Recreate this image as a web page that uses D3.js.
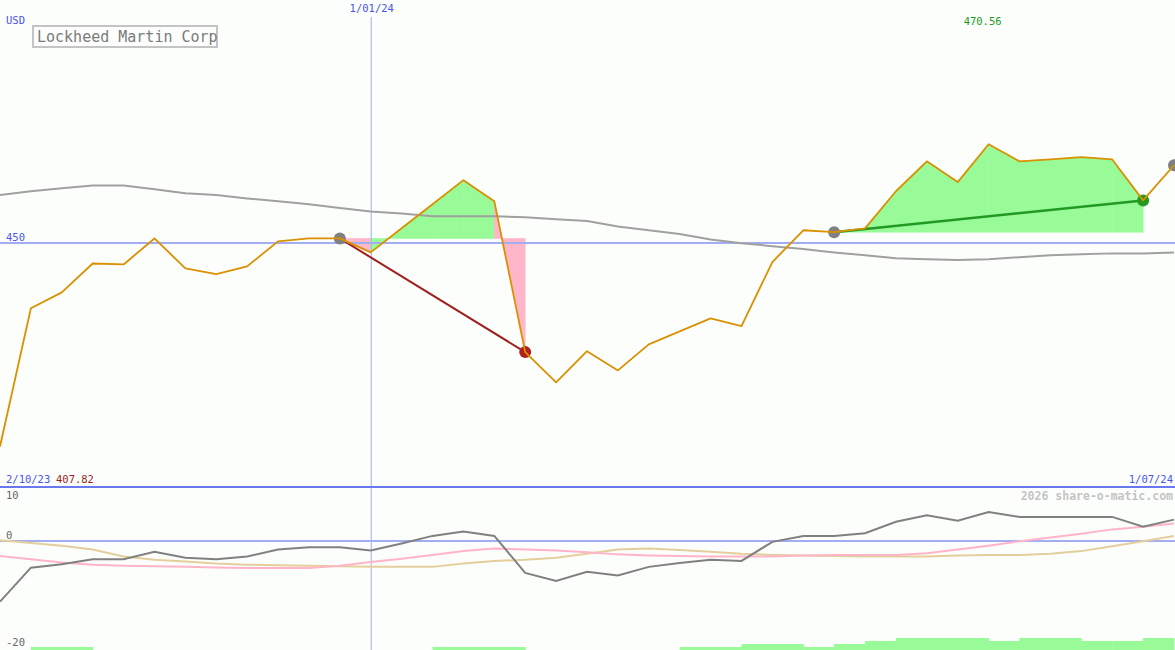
<!DOCTYPE html>
<html>
<head>
<meta charset="utf-8">
<script src="https://cdn.jsdelivr.net/npm/d3@7"></script>
<style>
  body { margin: 0; background: #fcfefc; }
  svg { display: block; font-family: "DejaVu Sans Mono", monospace; }
</style>
</head>
<body>
<script>
// weekly closes, 2/10/23 .. 1/07/24
var price = [407.82, 436.5, 439.8, 445.8, 445.6, 451.0, 444.8, 443.6, 445.2, 450.4,
             451.0, 451.0, 448.1, 453.1, 458.1, 463.1, 458.7, 427.4, 421.1, 427.6,
             423.6, 429.0, 431.7, 434.4, 432.8, 446.1, 452.7, 452.3, 453.1, 460.8,
             467.0, 462.7, 470.56, 467.0, 467.4, 467.9, 467.4, 458.9, 466.2];
var movAvg = [460.0, 460.8, 461.4, 462.0, 462.0, 461.2, 460.4, 460.0, 459.3, 458.7,
              458.1, 457.3, 456.6, 456.2, 455.6, 455.6, 455.6, 455.4, 455.0, 454.6,
              453.5, 452.7, 451.9, 450.8, 450.0, 449.4, 448.8, 448.1, 447.5, 446.9,
              446.7, 446.5, 446.7, 447.1, 447.5, 447.7, 447.9, 447.9, 448.1];
// lower panel
var momentum = [-11.1, -4.85, -4.2, -3.3, -3.3, -1.9, -3.0, -3.3, -2.8, -1.5,
                -1.1, -1.1, -1.7, -0.4, 1.0, 1.8, 1.0, -5.8, -7.3, -5.6,
                -6.3, -4.7, -4.0, -3.4, -3.6, -0.1, 1.0, 1.0, 1.5, 3.6,
                4.8, 3.8, 5.4, 4.5, 4.5, 4.5, 4.5, 2.7, 4.0];
var fastSig = [-2.7, -3.3, -3.9, -4.3, -4.5, -4.6, -4.7, -4.8, -4.9, -4.9,
               -4.9, -4.5, -3.8, -3.2, -2.5, -1.8, -1.3, -1.5, -1.7, -2.0,
               -2.4, -2.6, -2.7, -2.8, -2.8, -2.8, -2.6, -2.5, -2.5, -2.5,
               -2.2, -1.5, -0.8, 0.0, 0.7, 1.4, 2.2, 2.7, 3.3];
var slowSig = [0.2, -0.3, -0.8, -1.5, -2.8, -3.4, -3.7, -4.1, -4.3, -4.4,
               -4.5, -4.6, -4.7, -4.7, -4.7, -4.1, -3.6, -3.4, -3.0, -2.3,
               -1.5, -1.3, -1.6, -1.9, -2.3, -2.5, -2.6, -2.7, -2.8, -2.8,
               -2.8, -2.6, -2.5, -2.5, -2.3, -1.8, -0.9, 0.0, 1.0];
// strength bars, one per week interval
var strength = [0, 1, 1, 0, 0, 0, 0, 0, 0, 0, 0, 0, 0, 0, 1, 1, 1, 0, 0, 0,
                0, 0, 1, 1, 2, 2, 1, 2, 3, 4, 4, 4, 3, 4, 4, 3, 3, 4];
// trades: start week -> end week
var trades = [[11, 17], [27, 37]];
var openTrade = [38];

var title = "Lockheed Martin Corp";
var currency = "USD";
var startLabel = "2/10/23", endLabel = "1/07/24";
var yearMark = {idx: 12, label: "1/01/24"};
var refLevel = 450;
var lowerTicks = [10, 0, -20];
var credit = "2026 share-o-matic.com";

var W = 1175, H = 650;
var blue = "#4a55ee", lightBlue = "#a3adf2";

var x = d3.scaleLinear().domain([0, price.length - 1]).range([0, 1174]);
var y = d3.scaleLinear().domain([399.4, 500.5]).range([487, 0]);
var y2 = d3.scaleLinear().domain([-20, 10]).range([650, 487]);
var barY = d3.scaleLinear().domain([0, 4]).range([650, 638]);

var svg = d3.select("body").append("svg")
    .attr("width", W)
    .attr("height", H);

svg.append("rect").attr("width", W).attr("height", H).attr("fill", "#fcfefc");

// trade fills, per week segment
trades.forEach(function (t) {
  var lvl = price[t[0]];
  for (var i = t[0]; i < t[1]; i++) {
    var up = price[i + 1] >= lvl;
    var pts = [[x(i), y(lvl)], [x(i), y(price[i])], [x(i + 1), y(price[i + 1])], [x(i + 1), y(lvl)]];
    var col = up ? "#98fb98" : "#ffb6c8";
    svg.append("path")
      .attr("d", d3.line()(pts) + "Z")
      .attr("fill", col)
      .attr("stroke", col).attr("stroke-width", 0.6);
  }
});

// reference grid
svg.append("line")
  .attr("x1", x(yearMark.idx) + 0.5).attr("x2", x(yearMark.idx) + 0.5)
  .attr("y1", 17).attr("y2", H)
  .attr("stroke", lightBlue).attr("stroke-width", 1);
svg.append("line")
  .attr("x1", 0).attr("x2", W)
  .attr("y1", Math.round(y(refLevel))).attr("y2", Math.round(y(refLevel)))
  .attr("stroke", lightBlue).attr("stroke-width", 2);

var line = d3.line()
  .x(function (d, i) { return x(i); })
  .y(function (d) { return y(d); });

svg.append("path").datum(movAvg)
  .attr("d", line).attr("fill", "none")
  .attr("stroke", "#a0a0a0").attr("stroke-width", 2);

// trade connectors and markers
trades.forEach(function (t) {
  var win = price[t[1]] >= price[t[0]];
  var col = win ? "#229a22" : "#a01e1e";
  svg.append("line")
    .attr("x1", x(t[0])).attr("y1", y(price[t[0]]))
    .attr("x2", x(t[1])).attr("y2", y(price[t[1]]))
    .attr("stroke", col).attr("stroke-width", win ? 2.5 : 2);
  svg.append("circle").attr("cx", x(t[0])).attr("cy", y(price[t[0]]))
    .attr("r", 6).attr("fill", "#808080");
  svg.append("circle").attr("cx", x(t[1])).attr("cy", y(price[t[1]]))
    .attr("r", 6).attr("fill", win ? "#229a22" : "#b02020");
});
openTrade.forEach(function (i) {
  svg.append("circle").attr("cx", x(i)).attr("cy", y(price[i]))
    .attr("r", 6).attr("fill", "#808080");
});

svg.append("path").datum(price)
  .attr("d", line).attr("fill", "none")
  .attr("stroke", "#da9000").attr("stroke-width", 1.8)
  .attr("stroke-linejoin", "round");

// labels, upper panel
function label(txt, lx, ly, col, anchor, size, weight) {
  return svg.append("text")
    .attr("x", lx).attr("y", ly)
    .attr("fill", col)
    .attr("font-size", size || 10.5)
    .attr("font-weight", weight || "normal")
    .attr("text-anchor", anchor || "start")
    .text(txt);
}
label(currency, 6, 24, blue);
label(yearMark.label, x(yearMark.idx) + 1, 12, blue, "middle");
label(refLevel, 6, 241, blue);

var hi = d3.maxIndex(price), lo = d3.minIndex(price);
label(price[hi].toFixed(2), x(hi) - 6, 25, "#229a22", "middle");
label(startLabel, 6, 483, blue);
label(price[lo].toFixed(2), 56, 483, "#a01e1e");
label(endLabel, 1173, 483, blue, "end");

svg.append("rect")
  .attr("x", 33).attr("y", 26).attr("width", 184).attr("height", 21)
  .attr("fill", "#fcfefc").attr("stroke", "#c4c4c4").attr("stroke-width", 2);
label(title, 37, 42, "#7a7a7a", "start", 15);

// divider
svg.append("line")
  .attr("x1", 0).attr("x2", W).attr("y1", 487).attr("y2", 487)
  .attr("stroke", "#6a78ee").attr("stroke-width", 2);

// lower panel
svg.append("line")
  .attr("x1", 0).attr("x2", W)
  .attr("y1", Math.round(y2(0))).attr("y2", Math.round(y2(0)))
  .attr("stroke", lightBlue).attr("stroke-width", 2);

svg.selectAll("rect.bar")
  .data(strength)
  .enter()
  .append("rect")
  .attr("class", "bar")
  .attr("x", function (d, i) { return x(i); })
  .attr("y", function (d) { return barY(d); })
  .attr("width", function (d, i) { return x(i + 1) - x(i) + 0.5; })
  .attr("height", function (d) { return 650 - barY(d); })
  .attr("fill", "#98fb98");

var line2 = d3.line()
  .x(function (d, i) { return x(i); })
  .y(function (d) { return y2(d); });

[[slowSig, "#e4cf9c"], [fastSig, "#ffb4c8"], [momentum, "#808080"]].forEach(function (s) {
  svg.append("path").datum(s[0])
    .attr("d", line2).attr("fill", "none")
    .attr("stroke", s[1]).attr("stroke-width", 2);
});

var tickY = {"10": 499, "0": 539, "-20": 646};
lowerTicks.forEach(function (t) {
  label(t, 6, tickY[t], "#666666");
});

label(credit, 1173, 500, "#c4c4c4", "end", 11.5, "bold");
</script>
</body>
</html>
